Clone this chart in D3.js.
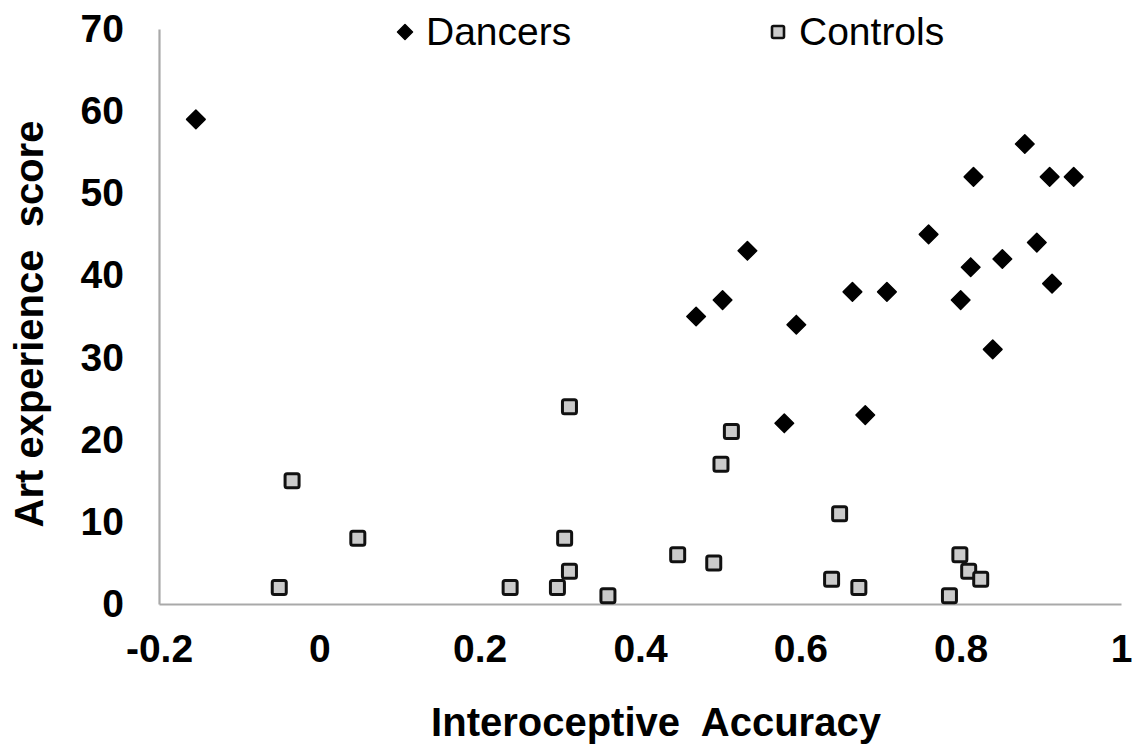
<!DOCTYPE html>
<html>
<head>
<meta charset="utf-8">
<script src="https://cdn.jsdelivr.net/npm/d3@7"></script>
<style>
  html, body { margin: 0; padding: 0; background: #fff; }
  svg { display: block; font-family: "Liberation Sans", Arial, sans-serif; }
</style>
</head>
<body>
<svg id="chart" width="1135" height="746"></svg>
<script>
// ---- Data ----
const dancersX = [-0.154, 0.470, 0.503, 0.534, 0.595, 0.665, 0.708, 0.580, 0.681, 0.880,
                  0.816, 0.911, 0.941, 0.760, 0.895, 0.852, 0.8125, 0.914, 0.800, 0.840];
const dancersY = [59, 35, 37, 43, 34, 38, 38, 22, 23, 56,
                  52, 52, 52, 45, 44, 42, 41, 39, 37, 31];

const controlsX = [-0.034, 0.048, -0.050, 0.312, 0.514, 0.501, 0.306, 0.447, 0.492, 0.312,
                   0.297, 0.238, 0.360, 0.649, 0.639, 0.673, 0.799, 0.810, 0.825, 0.786];
const controlsY = [15, 8, 2, 24, 21, 17, 8, 6, 5, 4,
                   2, 2, 1, 11, 3, 2, 6, 4, 3, 1];

const xTicks = [-0.2, 0, 0.2, 0.4, 0.6, 0.8, 1];
const xTickLabels = ["-0.2", "0", "0.2", "0.4", "0.6", "0.8", "1"];
const yTicks = [0, 10, 20, 30, 40, 50, 60, 70];
const seriesNames = ["Dancers", "Controls"];
const xTitle = "Interoceptive  Accuracy";
const yTitle = "Art experience  score";

// ---- Chart ----
const svg = d3.select("#chart");
svg.append("rect").attr("width", 1135).attr("height", 746).attr("fill", "#fff");

const x = d3.scaleLinear().domain([-0.2, 1]).range([159, 1121]);
const y = d3.scaleLinear().domain([0, 70]).range([604, 29]);

const axisColor = "#a9a9a9";

const xAxis = svg.append("g")
  .attr("transform", `translate(0,${y(0)})`)
  .call(d3.axisBottom(x).tickValues(xTicks).tickSize(0).tickPadding(30)
        .tickFormat((d, i) => xTickLabels[i]));
xAxis.select(".domain").attr("stroke", axisColor).attr("stroke-width", 2.2);
xAxis.selectAll("text").attr("font-size", 39).attr("font-weight", "bold")
  .attr("fill", "#000").attr("font-family", "Liberation Sans, Arial, sans-serif");

const yAxis = svg.append("g")
  .attr("transform", `translate(${x(-0.2)},0)`)
  .call(d3.axisLeft(y).tickValues(yTicks).tickSize(0).tickPadding(35));
yAxis.select(".domain").attr("stroke", axisColor).attr("stroke-width", 2.2);
yAxis.selectAll("text").attr("font-size", 39).attr("font-weight", "bold")
  .attr("fill", "#000").attr("font-family", "Liberation Sans, Arial, sans-serif");

// Axis titles
svg.append("text")
  .attr("x", 656).attr("y", 736)
  .attr("text-anchor", "middle")
  .attr("font-size", 40).attr("font-weight", "bold")
  .style("white-space", "pre")
  .text(xTitle);

svg.append("text")
  .attr("transform", "translate(43,324) rotate(-90)")
  .attr("text-anchor", "middle")
  .attr("font-size", 40).attr("font-weight", "bold")
  .style("white-space", "pre")
  .text(yTitle);

// Markers
function diamondPath(r) {
  return `M0,${-r}L${r},0L0,${r}L${-r},0Z`;
}

const dancers = dancersX.map((v, i) => ({ x: v, y: dancersY[i] }));
const controls = controlsX.map((v, i) => ({ x: v, y: controlsY[i] }));

svg.append("g").selectAll("rect")
  .data(controls).join("rect")
  .attr("x", d => x(d.x) - 7).attr("y", d => y(d.y) - 7)
  .attr("width", 14).attr("height", 14)
  .attr("rx", 2)
  .attr("fill", "#cbcbcb").attr("stroke", "#111").attr("stroke-width", 3);

svg.append("g").selectAll("path")
  .data(dancers).join("path")
  .attr("transform", d => `translate(${x(d.x)},${y(d.y)})`)
  .attr("d", diamondPath(9.3))
  .attr("fill", "#000").attr("stroke", "#000").attr("stroke-width", 1.5)
  .attr("stroke-linejoin", "round");

// Legend
const leg = svg.append("g");
leg.append("path")
  .attr("transform", "translate(405,32)")
  .attr("d", diamondPath(7.5))
  .attr("fill", "#000").attr("stroke", "#000").attr("stroke-width", 1.5)
  .attr("stroke-linejoin", "round");
leg.append("text").attr("x", 426).attr("y", 45)
  .attr("font-size", 39).attr("fill", "#000").text(seriesNames[0]);

leg.append("rect")
  .attr("x", 778 - 6).attr("y", 32 - 6).attr("width", 12).attr("height", 12).attr("rx", 1.5)
  .attr("fill", "#cbcbcb").attr("stroke", "#111").attr("stroke-width", 2.6);
leg.append("text").attr("x", 799).attr("y", 45)
  .attr("font-size", 39).attr("fill", "#000").text(seriesNames[1]);
</script>
</body>
</html>
